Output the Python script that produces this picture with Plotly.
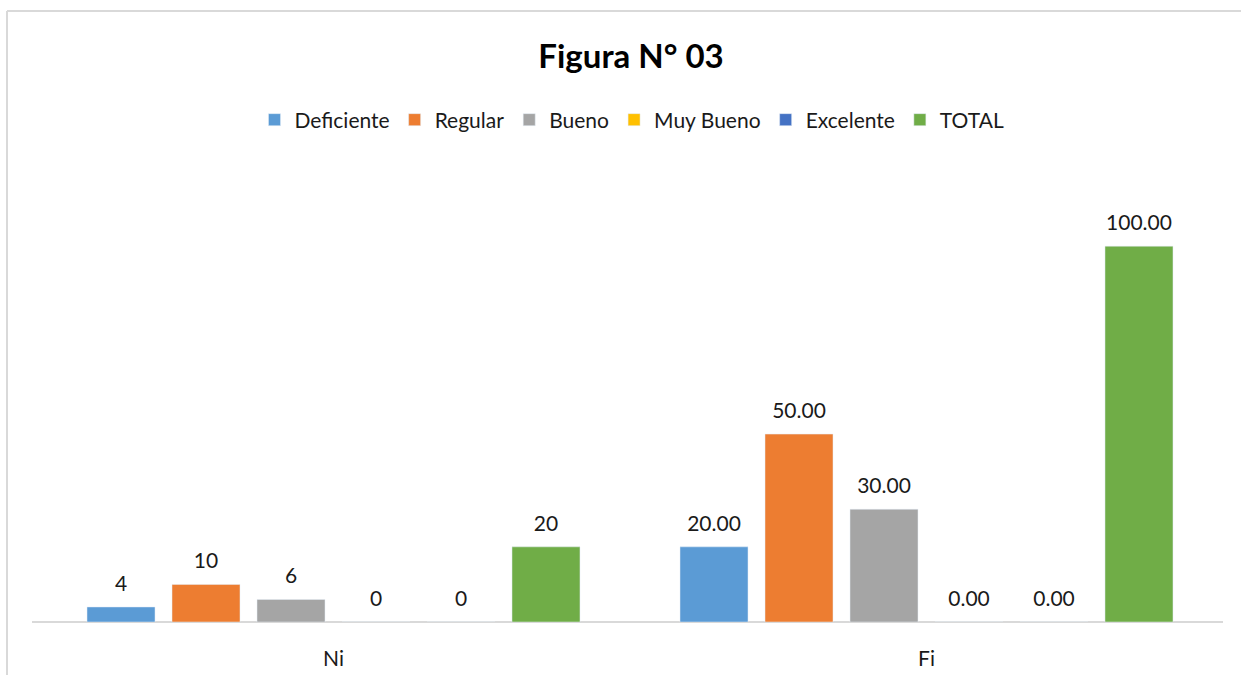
import plotly.graph_objects as go

categories = ["Ni", "Fi"]
series_names = ["Deficiente", "Regular", "Bueno", "Muy Bueno", "Excelente", "TOTAL"]
deficiente = [4, 20.00]
regular = [10, 50.00]
bueno = [6, 30.00]
muy_bueno = [0, 0.00]
excelente = [0, 0.00]
total = [20, 100.00]
series_values = [deficiente, regular, bueno, muy_bueno, excelente, total]
colors = ["#5B9BD5", "#ED7D31", "#A5A5A5", "#FFC000", "#4472C4", "#70AD47"]

FONT = "Lato, 'Open Sans', sans-serif"

def fmt(vals):
    return [f"{vals[0]:.0f}", f"{vals[1]:.2f}"]

fig = go.Figure()
for name, vals, col in zip(series_names, series_values, colors):
    fig.add_trace(go.Bar(
        x=categories, y=vals, name=name, marker_color=col,
        offsetgroup=name,
    ))
# value labels, grouped like the bars
for name, vals in zip(series_names, series_values):
    fig.add_trace(go.Scatter(
        x=categories, y=vals, mode="markers+text", text=fmt(vals),
        textposition="top center", offsetgroup=name, showlegend=False,
        marker=dict(size=16, color="rgba(0,0,0,0)"), cliponaxis=False,
        hoverinfo="skip",
        textfont=dict(size=21, color="#1a1a1a", family=FONT),
    ))

W, H = 1241, 675
ml, mr, mt, mb = 37, 18, 171, 53
pw = W - ml - mr
ph = H - mt - mb

def px_x(x):
    return (x - ml) / pw

def px_y(y):
    return (H - mb - y) / ph

fig.update_layout(
    width=W, height=H,
    margin=dict(l=ml, r=mr, t=mt, b=mb, autoexpand=False),
    paper_bgcolor="white", plot_bgcolor="white",
    barmode="group", bargap=0.14, bargroupgap=0.2,
    scattermode="group", scattergap=0.14,
    font=dict(family=FONT, color="#1a1a1a"),
    title=dict(text="<b>Figura N° 03</b>", x=(631 - ml) / pw, xref="paper",
               xanchor="center",
               y=1 - 56 / H, yanchor="middle",
               font=dict(size=33, family=FONT, color="#000000")),
    legend=dict(orientation="h", x=px_x(632), xanchor="center",
                y=px_y(120), yanchor="middle",
                font=dict(size=21, family=FONT, color="#1a1a1a"),
                itemwidth=30, tracegroupgap=0),
    xaxis=dict(showline=False, ticks="", ticklabelstandoff=22, automargin=False,
               tickfont=dict(size=21, family=FONT, color="#1a1a1a")),
    yaxis=dict(range=[0, 120], visible=False, showgrid=False, zeroline=False),
    showlegend=True,
)

# category axis baseline
fig.add_shape(type="line", xref="paper", yref="paper",
              x0=px_x(32), x1=px_x(1223), y0=0, y1=0,
              line=dict(color="#d9d9d9", width=2), layer="below")
# outer frame (chart area border from the source document)
fig.add_shape(type="line", xref="paper", yref="paper",
              x0=px_x(7), x1=px_x(1241), y0=px_y(11), y1=px_y(11),
              line=dict(color="#d9d9d9", width=2))
fig.add_shape(type="line", xref="paper", yref="paper",
              x0=px_x(7), x1=px_x(7), y0=px_y(11), y1=px_y(675),
              line=dict(color="#d9d9d9", width=2))

fig.write_html("out.html")
